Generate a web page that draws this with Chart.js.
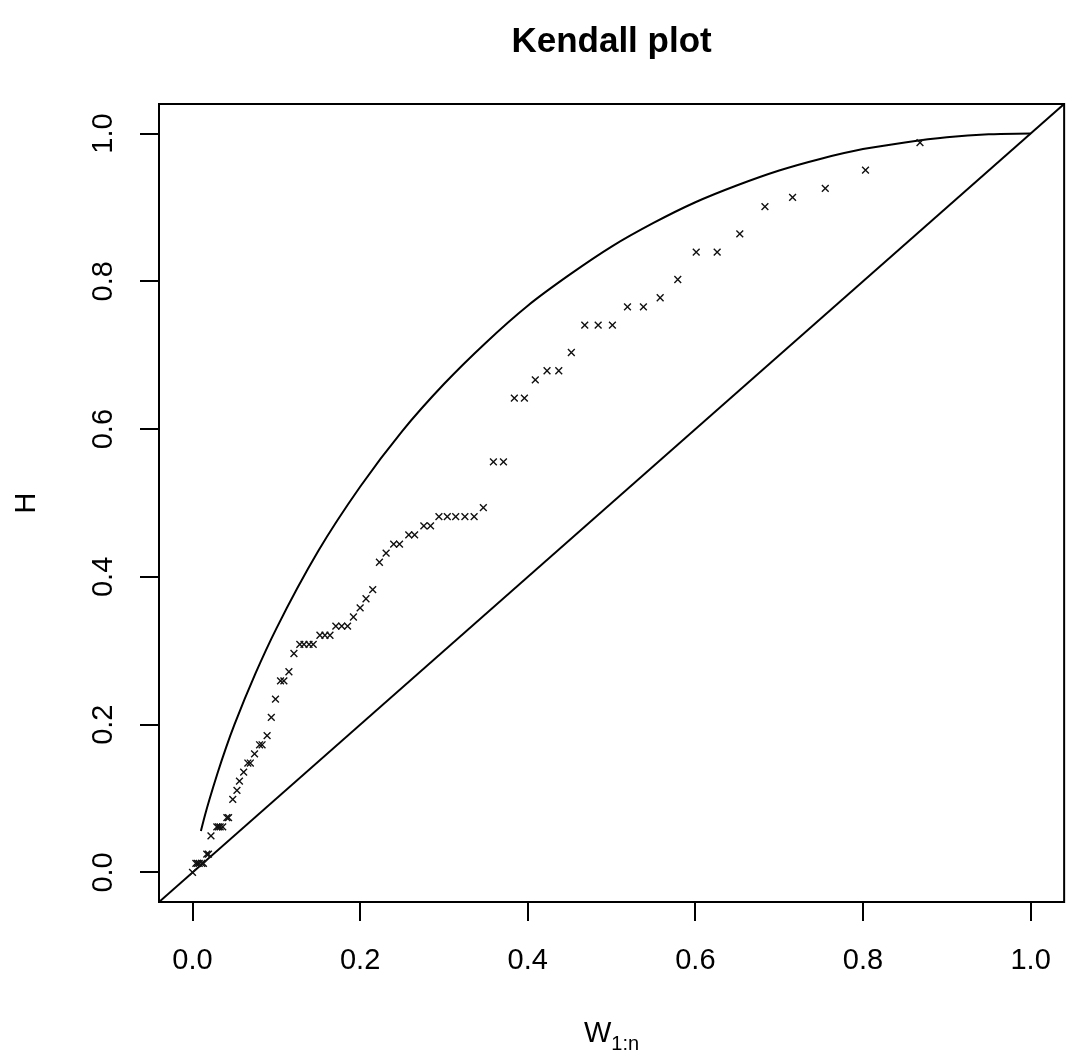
<!DOCTYPE html>
<html lang="en">
<head>
<meta charset="UTF-8">
<title>Kendall plot</title>
<script src="https://cdn.jsdelivr.net/npm/chart.js"></script>
<style>
  html, body { margin: 0; padding: 0; background: #fff; }
  #kplot { display: block; }
</style>
</head>
<body>
<canvas id="kplot" width="1074" height="1055"></canvas>
<script>
// observed points: W_{1:n} (x) and H (y)
const wVals = [
  0.000,
  0.004, 0.006, 0.008, 0.011, 0.013,
  0.017, 0.019,
  0.022,
  0.029, 0.031, 0.033, 0.036,
  0.041, 0.043,
  0.048, 0.053, 0.056, 0.061,
  0.066, 0.069,
  0.074,
  0.080, 0.083,
  0.089, 0.094, 0.099,
  0.105, 0.109,
  0.115, 0.121,
  0.128, 0.133, 0.139, 0.144,
  0.152, 0.158, 0.164,
  0.171, 0.178, 0.185,
  0.192, 0.200, 0.207, 0.215,
  0.223, 0.231,
  0.240, 0.247,
  0.258, 0.265,
  0.276, 0.284,
  0.294, 0.304, 0.314, 0.325, 0.336,
  0.347,
  0.359, 0.371,
  0.384, 0.396,
  0.409,
  0.423, 0.437,
  0.452,
  0.468, 0.484, 0.501,
  0.519, 0.538,
  0.558, 0.579,
  0.601, 0.626,
  0.653, 0.683, 0.716, 0.755, 0.803, 0.868
];
const hVals = [
  0.0000,
  0.0123, 0.0123, 0.0123, 0.0123, 0.0123,
  0.0247, 0.0247,
  0.0494,
  0.0617, 0.0617, 0.0617, 0.0617,
  0.0741, 0.0741,
  0.0988, 0.1111, 0.1235, 0.1358,
  0.1481, 0.1481,
  0.1605,
  0.1728, 0.1728,
  0.1852, 0.2099, 0.2346,
  0.2593, 0.2593,
  0.2716, 0.2963,
  0.3086, 0.3086, 0.3086, 0.3086,
  0.3210, 0.3210, 0.3210,
  0.3333, 0.3333, 0.3333,
  0.3457, 0.3580, 0.3704, 0.3827,
  0.4198, 0.4321,
  0.4444, 0.4444,
  0.4568, 0.4568,
  0.4691, 0.4691,
  0.4815, 0.4815, 0.4815, 0.4815, 0.4815,
  0.4938,
  0.5556, 0.5556,
  0.6420, 0.6420,
  0.6667,
  0.6790, 0.6790,
  0.7037,
  0.7407, 0.7407, 0.7407,
  0.7654, 0.7654,
  0.7778, 0.8025,
  0.8395, 0.8395,
  0.8642, 0.9012, 0.9136, 0.9259, 0.9506, 0.9877
];

// upper reference curve, read along its length
const curveW = [0.01, 0.015, 0.02, 0.03, 0.04, 0.05, 0.075, 0.1, 0.15, 0.2, 0.25, 0.3, 0.35,
                0.4, 0.45, 0.5, 0.55, 0.6, 0.65, 0.7, 0.75, 0.8, 0.85, 0.9, 0.95, 1.0];
const curveH = [0.056, 0.078, 0.098, 0.135, 0.169, 0.200, 0.269, 0.330, 0.435, 0.522, 0.597, 0.661, 0.717,
                0.767, 0.809, 0.847, 0.879, 0.907, 0.930, 0.950, 0.966, 0.979, 0.988, 0.995, 0.999, 1.000];

// diagonal y = x, corner to corner
const diagEnds = [-0.04, 1.04];

const tickVals = [0, 0.2, 0.4, 0.6, 0.8, 1.0];
const tickLabels = ['0.0', '0.2', '0.4', '0.6', '0.8', '1.0'];

const FONT = '"Liberation Sans", Arial, Helvetica, sans-serif';

const setTicks = scale => { scale.ticks = tickVals.map(v => ({ value: v })); };

// box, rotated y labels, axis titles and main title
const decorations = {
  id: 'decorations',
  afterDraw(chart) {
    const { ctx, chartArea: a, scales } = chart;
    ctx.save();
    ctx.strokeStyle = '#000';
    ctx.lineWidth = 2;
    ctx.strokeRect(a.left, a.top, a.right - a.left, a.bottom - a.top);

    ctx.fillStyle = '#000';
    ctx.font = '29px ' + FONT;
    ctx.textAlign = 'center';
    ctx.textBaseline = 'alphabetic';
    tickVals.forEach((v, i) => {
      const y = scales.y.getPixelForValue(v);
      ctx.save();
      ctx.translate(112, y);
      ctx.rotate(-Math.PI / 2);
      ctx.fillText(tickLabels[i], 0, 0);
      ctx.restore();
    });

    // y title
    ctx.save();
    ctx.translate(35, (a.top + a.bottom) / 2);
    ctx.rotate(-Math.PI / 2);
    ctx.fillText('H', 0, 0);
    ctx.restore();

    // x title W_{1:n}
    const cx = (a.left + a.right) / 2;
    ctx.font = '29px ' + FONT;
    const wW = ctx.measureText('W').width;
    ctx.font = '20px ' + FONT;
    const wSub = ctx.measureText('1:n').width;
    const x0 = cx - (wW + wSub) / 2;
    ctx.textAlign = 'left';
    ctx.font = '29px ' + FONT;
    ctx.fillText('W', x0, 1042);
    ctx.font = '20px ' + FONT;
    ctx.fillText('1:n', x0 + wW, 1050);

    // main title
    ctx.textAlign = 'center';
    ctx.font = 'bold 35px ' + FONT;
    ctx.fillText('Kendall plot', cx, 52);
    ctx.restore();
  }
};

const ctx = document.getElementById('kplot').getContext('2d');
new Chart(ctx, {
  type: 'scatter',
  data: {
    datasets: [
      {
        label: 'points',
        data: wVals.map((w, i) => ({ x: w, y: hVals[i] })),
        pointStyle: 'crossRot',
        pointRadius: 4.8,
        borderColor: '#111',
        borderWidth: 1.4,
        showLine: false
      },
      {
        label: 'curve',
        data: curveW.map((w, i) => ({ x: w, y: curveH[i] })),
        showLine: true,
        pointRadius: 0,
        borderColor: '#000',
        borderWidth: 2,
        cubicInterpolationMode: 'monotone'
      },
      {
        label: 'diagonal',
        data: diagEnds.map(v => ({ x: v, y: v })),
        showLine: true,
        pointRadius: 0,
        borderColor: '#000',
        borderWidth: 2
      }
    ]
  },
  options: {
    responsive: false,
    animation: false,
    devicePixelRatio: 1,
    layout: { padding: { top: 104, right: 3, left: 0, bottom: 0 } },
    plugins: {
      legend: { display: false },
      title: { display: false },
      tooltip: { enabled: false }
    },
    scales: {
      x: {
        type: 'linear',
        min: -0.04,
        max: 1.04,
        afterBuildTicks: setTicks,
        afterFit: scale => { scale.height = 153; },
        border: { display: false },
        grid: { drawOnChartArea: false, drawTicks: true, tickLength: 19, color: '#000', lineWidth: 2 },
        ticks: {
          padding: 23,
          color: '#000',
          maxRotation: 0,
          font: { family: FONT, size: 29 },
          callback: (v) => tickLabels[tickVals.indexOf(v)]
        }
      },
      y: {
        type: 'linear',
        min: -0.04,
        max: 1.04,
        afterBuildTicks: setTicks,
        afterFit: scale => { scale.width = 159; },
        border: { display: false },
        grid: { drawOnChartArea: false, drawTicks: true, tickLength: 19, color: '#000', lineWidth: 2 },
        ticks: { display: false }
      }
    }
  },
  plugins: [decorations]
});
</script>
</body>
</html>
